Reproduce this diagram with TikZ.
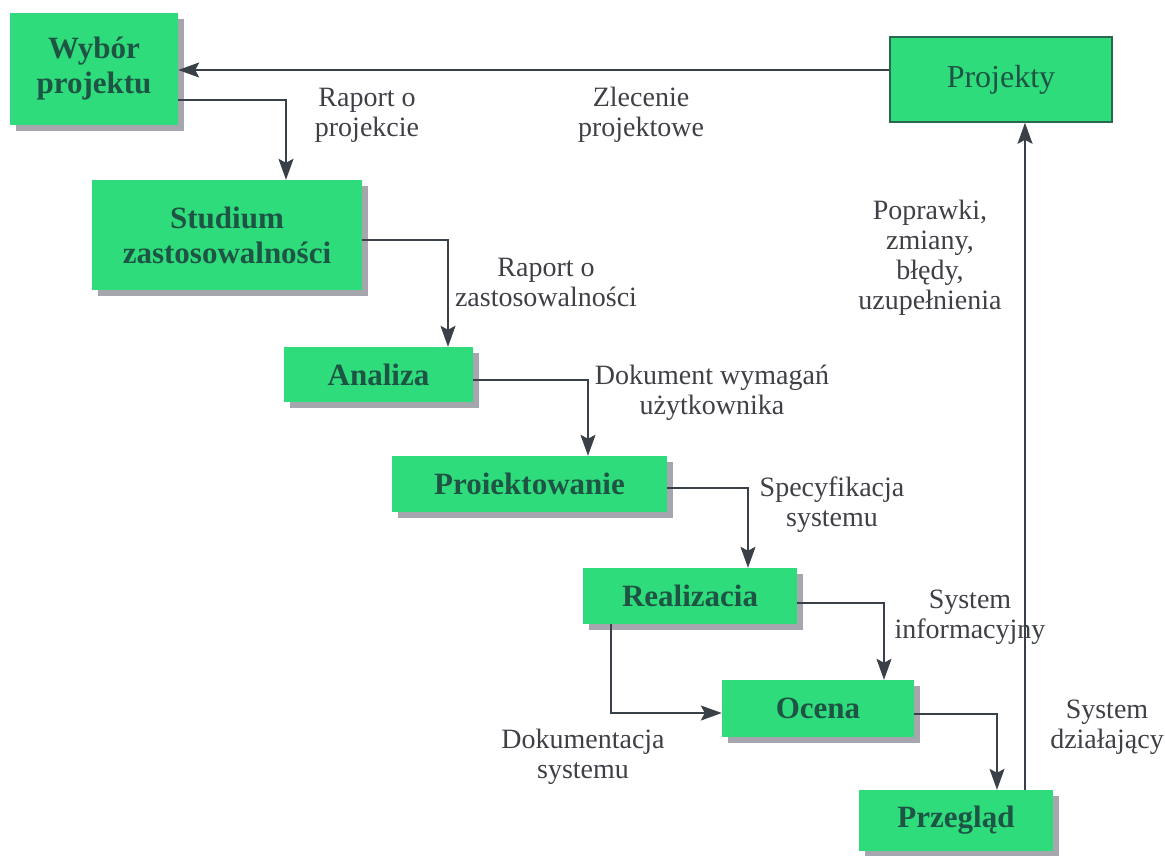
\documentclass[tikz,border=0pt]{standalone}
\usepackage{fontspec}
\setmainfont{Liberation Serif}
\usetikzlibrary{arrows.meta,shadows}
\definecolor{boxgreen}{HTML}{2EDC7C}
\definecolor{boxtext}{HTML}{1E5444}
\definecolor{boxedge}{HTML}{2B6650}
\definecolor{linegray}{HTML}{3A4048}
\definecolor{labelgray}{HTML}{3E4046}
\definecolor{shadowgray}{HTML}{A6A6AE}
\begin{document}
\begin{tikzpicture}[x=1pt,y=-1pt,
  stage/.style={fill=boxgreen, draw=none, inner sep=0pt, align=center,
    text=boxtext, font=\fontsize{31}{35}\selectfont\bfseries,
    general shadow={fill=shadowgray, shadow xshift=6pt, shadow yshift=-6pt}},
  store/.style={fill=boxgreen, draw=boxedge, line width=1.6pt, inner sep=0pt,
    align=center, text=boxtext, font=\fontsize{32}{36}\selectfont},
  lbl/.style={align=center, text=labelgray, font=\fontsize{28}{30}\selectfont},
  conn/.style={draw=linegray, line width=1.8pt,
    -{Stealth[length=21pt,width=15pt,inset=4pt]}}]
\useasboundingbox (0,0) rectangle (1165,855);

% process stages
\node[stage, minimum width=168pt, minimum height=112pt] (wybor) at (94,69) {Wybór\\projektu};
\node[store, minimum width=222pt, minimum height=85pt] (projekty) at (1001,79.5) {Projekty};
\node[stage, minimum width=270pt, minimum height=110pt] (studium) at (227,235) {Studium\\zastosowalności};
\node[stage, minimum width=189pt, minimum height=55pt] (analiza) at (378.5,374.5) {Analiza};
\node[stage, minimum width=275pt, minimum height=56pt] (projekt) at (529.5,484) {Proiektowanie};
\node[stage, minimum width=214pt, minimum height=56pt] (realiz) at (690,596) {Realizacia};
\node[stage, minimum width=192pt, minimum height=57pt] (ocena) at (818,708.5) {Ocena};
\node[stage, minimum width=194pt, minimum height=61pt] (przeglad) at (956,820.5) {Przegląd};

% flow between stages
\draw[conn] (projekty.west |- 0,70) -- (wybor.east |- 0,70);
\draw[conn] (wybor.east |- 0,100) -| (studium.north -| 286,0);
\draw[conn] (studium.east |- 0,240) -| (analiza.north -| 448,0);
\draw[conn] (analiza.east |- 0,380) -| (projekt.north -| 588,0);
\draw[conn] (projekt.east |- 0,488) -| (realiz.north -| 748,0);
\draw[conn] (realiz.east |- 0,603) -| (ocena.north -| 884,0);
\draw[conn] (realiz.south -| 611,0) |- (ocena.west |- 0,713);
\draw[conn] (ocena.east |- 0,714) -| (przeglad.north -| 997,0);

% labels
\node[lbl] (l1) at (367,115) {Raport o\\projekcie};
\node[lbl] (l2) at (641,115) {Zlecenie\\projektowe};
\node[lbl] (l3) at (930,258) {Poprawki,\\zmiany,\\błędy,\\uzupełnienia};
\node[lbl] (l4) at (546,282) {Raport o\\zastosowalności};
\node[lbl] (l5) at (712,393) {Dokument wymagań\\użytkownika};
\node[lbl] (l6) at (832,505) {Specyfikacja\\systemu};
\node[lbl] (l7) at (970,617) {System\\informacyjny};
\node[lbl] (l8) at (583,757) {Dokumentacja\\systemu};
\node[lbl] (l9) at (1107,727) {System\\działający};

% feedback line drawn over its label
\draw[conn] (przeglad.north -| 1025,0) -- (projekty.south -| 1025,0);
\end{tikzpicture}
\end{document}
